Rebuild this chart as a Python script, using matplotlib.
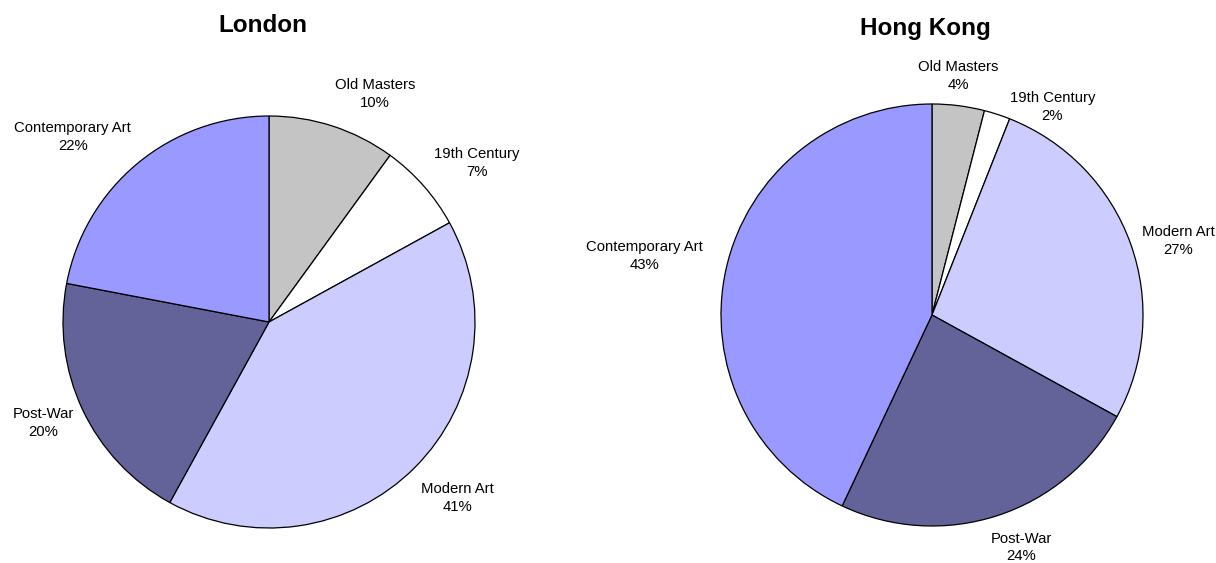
import numpy as np
import matplotlib.pyplot as plt

plt.rcParams['font.family'] = ['Liberation Sans', 'DejaVu Sans']

# categories and shares (%)
categories = ['Old Masters', '19th Century', 'Modern Art', 'Post-War', 'Contemporary Art']
london = [10, 7, 41, 20, 22]
hong_kong = [4, 2, 27, 24, 43]
colors = ['#C4C4C4', '#FFFFFF', '#CCCCFF', '#636399', '#9999FF']

W, H = 1216, 563
fig = plt.figure(figsize=(W / 100, H / 100), dpi=100)
ax = fig.add_axes([0, 0, 1, 1])
ax.set_xlim(0, W)
ax.set_ylim(0, H)
ax.set_aspect('equal')
ax.axis('off')


def draw_pie(values, center, radius, title, title_xy, label_dist, label_shift):
    wedges, _ = ax.pie(values, colors=colors, startangle=90, counterclock=False,
                       center=center, radius=radius, frame=True,
                       wedgeprops=dict(edgecolor='black', linewidth=0.9))
    for w, name, v, d, s in zip(wedges, categories, values, label_dist, label_shift):
        theta = np.deg2rad((w.theta1 + w.theta2) / 2 + s)
        x = center[0] + d * radius * np.cos(theta)
        y = center[1] + d * radius * np.sin(theta)
        ax.text(x, y, f'{name}\n{v}%', ha='center', va='center', fontsize=10.7,
                linespacing=1.35)
    ax.text(title_xy[0], title_xy[1], title, ha='center', va='center',
            fontsize=17.5, fontweight='bold')


draw_pie(london, (269, H - 322), 206, 'London', (263, H - 26),
         [1.22, 1.27, 1.25, 1.2, 1.31], [-7, -4, 2, -1, 7])
draw_pie(hong_kong, (932, H - 315), 211, 'Hong Kong', (925, H - 28),
         [1.14, 1.14, 1.22, 1.18, 1.39], [1, -12, -3, 3, 1])

ax.set_xlim(0, W)
ax.set_ylim(0, H)
ax.axis('off')
fig.savefig('out.png', dpi=100)
